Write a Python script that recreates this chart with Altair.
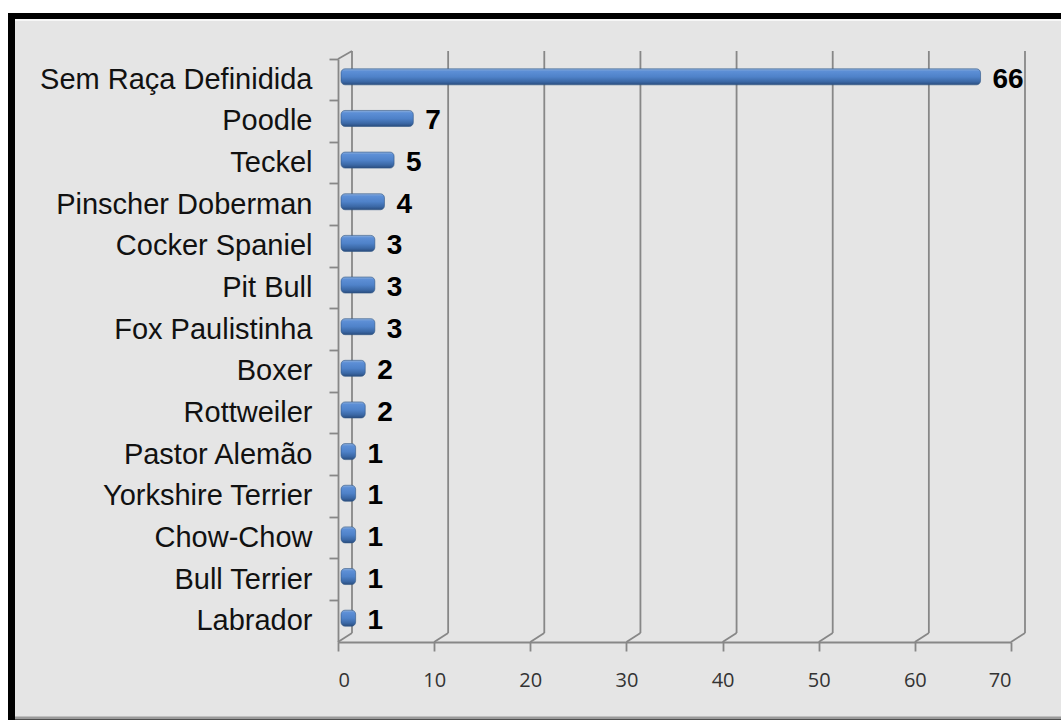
import altair as alt
import pandas as pd

breeds = ["Sem Raça Definidida", "Poodle", "Teckel", "Pinscher Doberman", "Cocker Spaniel",
          "Pit Bull", "Fox Paulistinha", "Boxer", "Rottweiler", "Pastor Alemão",
          "Yorkshire Terrier", "Chow-Chow", "Bull Terrier", "Labrador"]
counts = [66, 7, 5, 4, 3, 3, 3, 2, 2, 1, 1, 1, 1, 1]
x_ticks = [0, 10, 20, 30, 40, 50, 60, 70]

df = pd.DataFrame({"breed": breeds, "count": counts})
grid_df = pd.DataFrame({"g": x_ticks})
one = pd.DataFrame({"a": [0]})

W, H = 673, 583
GRID = "#878787"

xscale = alt.Scale(domain=[0, 70], nice=False, zero=True)
yscale = alt.Scale(domain=breeds, paddingInner=0, paddingOuter=0)

# frame
frame_black = alt.Chart(one).mark_rect(fill="black").encode(
    x=alt.value(-330), x2=alt.value(740), y=alt.value(-46), y2=alt.value(700))
frame_gray = alt.Chart(one).mark_rect(fill="#e5e5e5").encode(
    x=alt.value(-323), x2=alt.value(740), y=alt.value(-40), y2=alt.value(658))
bevel_top = alt.Chart(one).mark_rule(stroke="#f7f7f7", strokeWidth=2).encode(
    x=alt.value(-323), x2=alt.value(740), y=alt.value(-39), y2=alt.value(-39))
bevel_bottom = alt.Chart(one).mark_rule(stroke="#9a9a9a", strokeWidth=3).encode(
    x=alt.value(-323), x2=alt.value(740), y=alt.value(659), y2=alt.value(659))

# 3D back grid
back = alt.Chart(grid_df).mark_rule(stroke=GRID, strokeWidth=1.8, xOffset=14).encode(
    x=alt.X("g:Q", scale=xscale), y=alt.value(-8), y2=alt.value(574))
diag = alt.Chart(grid_df).mark_rule(stroke=GRID, strokeWidth=1.8, x2Offset=14).encode(
    x=alt.X("g:Q", scale=xscale), x2="g:Q", y=alt.value(583), y2=alt.value(574))
top_diag = alt.Chart(one).mark_rule(stroke=GRID, strokeWidth=1.8).encode(
    x=alt.value(0), x2=alt.value(14), y=alt.value(0), y2=alt.value(-8))

grad = alt.Gradient(
    gradient="linear", x1=0, y1=0, x2=0, y2=1,
    stops=[alt.GradientStop(offset=0, color="#8fb0dc"),
           alt.GradientStop(offset=0.15, color="#5d8fd6"),
           alt.GradientStop(offset=0.5, color="#4f82c9"),
           alt.GradientStop(offset=0.8, color="#3b68a6"),
           alt.GradientStop(offset=1, color="#2a4d7e")])

bars = alt.Chart(df).mark_bar(
    fill=grad, size=16, yOffset=-3, xOffset=8, x2Offset=3, cornerRadius=4,
    stroke="#2f5585", strokeWidth=0.6
).encode(
    x=alt.X("count:Q", scale=xscale,
            axis=alt.Axis(values=x_ticks, title=None, grid=False, domainColor=GRID,
                          domainWidth=1.8, tickColor=GRID, tickWidth=1.8, tickSize=9,
                          labelFont="Open Sans", labelFontSize=20, labelColor="#333333",
                          labelPadding=19, zindex=1)),
    x2=alt.datum(0),
    y=alt.Y("breed:N", scale=yscale, sort=breeds,
            axis=alt.Axis(title=None, bandPosition=0, domainColor=GRID, domainWidth=1.8,
                          tickColor=GRID, tickWidth=1.8, tickSize=9,
                          labelFont="Liberation Sans", labelFontSize=29,
                          labelColor="#111111", labelPadding=17, labelLimit=400,
                          zindex=1)),
)

labels = alt.Chart(df).mark_text(
    align="left", baseline="middle", dx=20, dy=0, font="Liberation Sans",
    fontSize=28, fontWeight="bold", color="black"
).encode(
    x=alt.X("count:Q", scale=xscale),
    y=alt.Y("breed:N", scale=yscale, sort=breeds),
    text="count:Q",
)

chart = alt.layer(frame_black, frame_gray, bevel_top, bevel_bottom, back, diag, top_diag,
                  bars, labels).properties(
    width=W, height=H,
    autosize=alt.AutoSizeParams(type="none"),
    padding={"left": 338, "top": 59, "right": 50, "bottom": 78},
    background="white",
).configure_view(stroke=None)

chart.save("out.html", embed_options={"renderer": "svg", "actions": False})
